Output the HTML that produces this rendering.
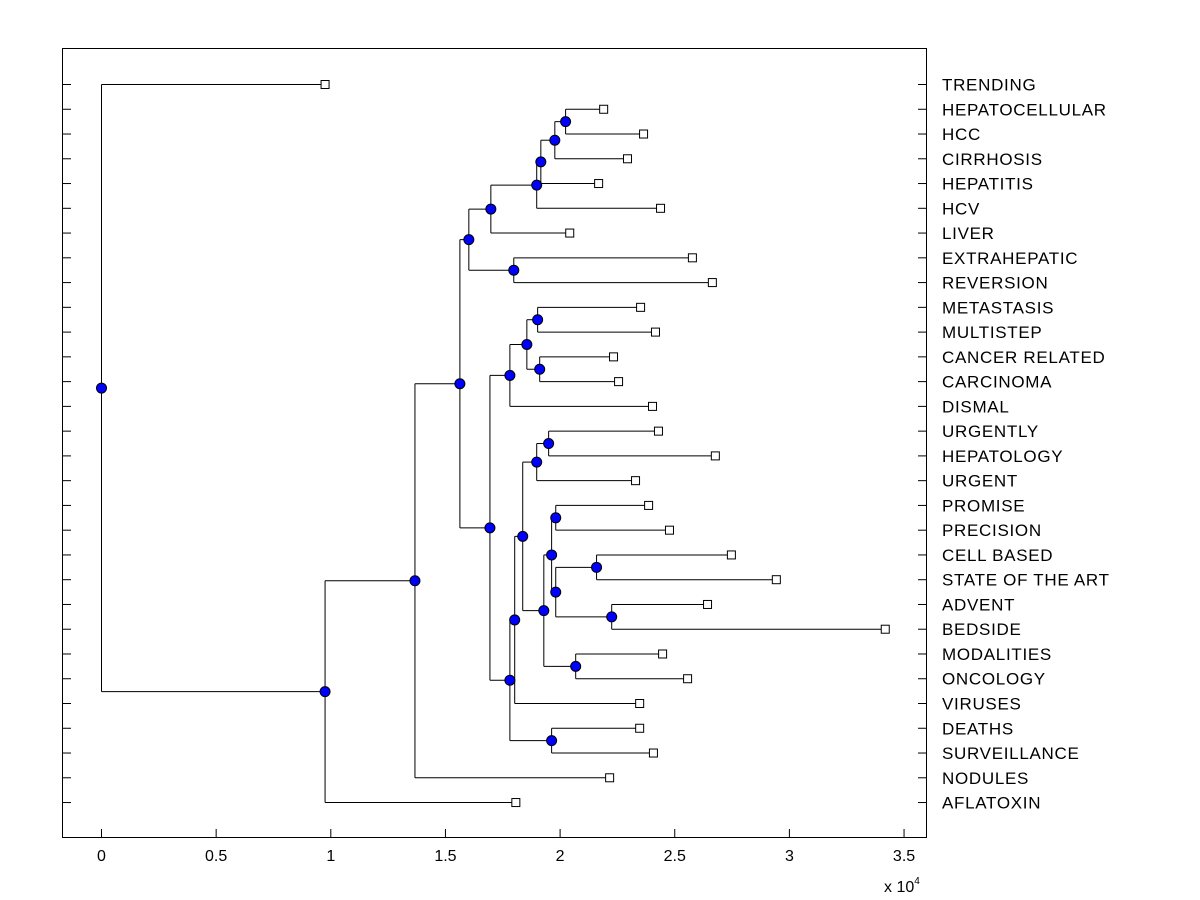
<!DOCTYPE html>
<html><head><meta charset="utf-8"><style>
html,body{margin:0;padding:0;background:#fff;}
svg{display:block;font-family:"Liberation Sans",Arial,sans-serif;}
</style></head><body>
<svg id="chart" width="1200" height="900" viewBox="0 0 1200 900">
<rect x="62.5" y="48.5" width="864" height="789" fill="#fff" stroke="#000" stroke-width="1"/>
<g id="ticks"></g><g id="tree"></g><g id="labels"></g>
<text x="884" y="892" font-size="16">x 10<tspan dy="-8" font-size="10">4</tspan></text>
</svg>
<script>
const leafNames=["TRENDING","HEPATOCELLULAR","HCC","CIRRHOSIS","HEPATITIS","HCV","LIVER","EXTRAHEPATIC","REVERSION","METASTASIS","MULTISTEP","CANCER RELATED","CARCINOMA","DISMAL","URGENTLY","HEPATOLOGY","URGENT","PROMISE","PRECISION","CELL BASED","STATE OF THE ART","ADVENT","BEDSIDE","MODALITIES","ONCOLOGY","VIRUSES","DEATHS","SURVEILLANCE","NODULES","AFLATOXIN"];
const leafDist=[0.975,2.19,2.364,2.294,2.168,2.438,2.042,2.577,2.664,2.351,2.416,2.233,2.255,2.403,2.429,2.677,2.329,2.386,2.477,2.747,2.943,2.643,3.418,2.447,2.556,2.347,2.347,2.407,2.216,1.807];
const nodeChildren=[[1,2],[30,3],[31,4],[32,5],[33,6],[7,8],[34,35],[9,10],[11,12],[37,38],[39,13],[14,15],[41,16],[17,18],[19,20],[21,22],[44,45],[43,46],[23,24],[47,48],[42,49],[50,25],[26,27],[51,52],[40,53],[36,54],[55,28],[56,29],[0,57]];
const nodeDist=[2.024,1.977,1.916,1.898,1.698,1.798,1.602,1.902,1.911,1.855,1.781,1.950,1.898,1.981,2.159,2.225,1.981,1.963,2.068,1.929,1.837,1.802,1.963,1.781,1.694,1.563,1.367,0.975,0];
const xTicks=[0,0.5,1,1.5,2,2.5,3,3.5];
const xTickLabels=["0","0.5","1","1.5","2","2.5","3","3.5"];
const NS="http://www.w3.org/2000/svg";
const X=v=>101.5+v*229.3;
const Y=i=>84.5+i*24.76;
function mk(tag,attrs,parent){const e=document.createElementNS(NS,tag);for(const k in attrs)e.setAttribute(k,attrs[k]);parent.appendChild(e);return e;}
const gT=document.getElementById('ticks'),gTree=document.getElementById('tree'),gL=document.getElementById('labels');
const nL=leafNames.length;
const px=[],py=[];
for(let i=0;i<nL;i++){px[i]=X(leafDist[i]);py[i]=Y(i);}
nodeChildren.forEach((c,k)=>{const id=nL+k;px[id]=X(nodeDist[k]);py[id]=(py[c[0]]+py[c[1]])/2;});
for(let i=0;i<nL;i++){
  const t=mk('line',{x1:62.5,x2:71,y1:Y(i),y2:Y(i),stroke:'#000'},gT);
  
  
  const t2=mk('line',{x1:918,x2:926.5,y1:Y(i),y2:Y(i),stroke:'#000'},gT);
  
  
  const l=mk('text',{x:942,y:Y(i)+6,'font-size':17,'letter-spacing':0.7},gL);
  l.textContent=leafNames[i];
  
  
}
xTicks.forEach((v,i)=>{
  const t=mk('line',{x1:X(v),x2:X(v),y1:829,y2:837.5,stroke:'#000'},gT);
  
  
  const l=mk('text',{x:X(v),y:861,'font-size':16,'text-anchor':'middle'},gL);
  l.textContent=xTickLabels[i];
  
  
});
nodeChildren.forEach((c,k)=>{
  const id=nL+k;
  const v=mk('line',{x1:px[id],x2:px[id],y1:py[c[0]],y2:py[c[1]],stroke:'#000'},gTree);
  
  
  c.forEach(ch=>{
    const h=mk('line',{x1:px[id],x2:px[ch],y1:py[ch],y2:py[ch],stroke:'#000'},gTree);
    
    
  });
});
for(let i=0;i<nL;i++){
  const r=mk('rect',{x:px[i]-4,y:py[i]-4,width:8,height:8,fill:'#fff',stroke:'#000'},gTree);
  
  
}
nodeChildren.forEach((c,k)=>{
  const id=nL+k;
  const m=mk('circle',{cx:px[id],cy:py[id],r:5,fill:'#0000ff',stroke:'#000'},gTree);
  
  
});
</script>
</body></html>
